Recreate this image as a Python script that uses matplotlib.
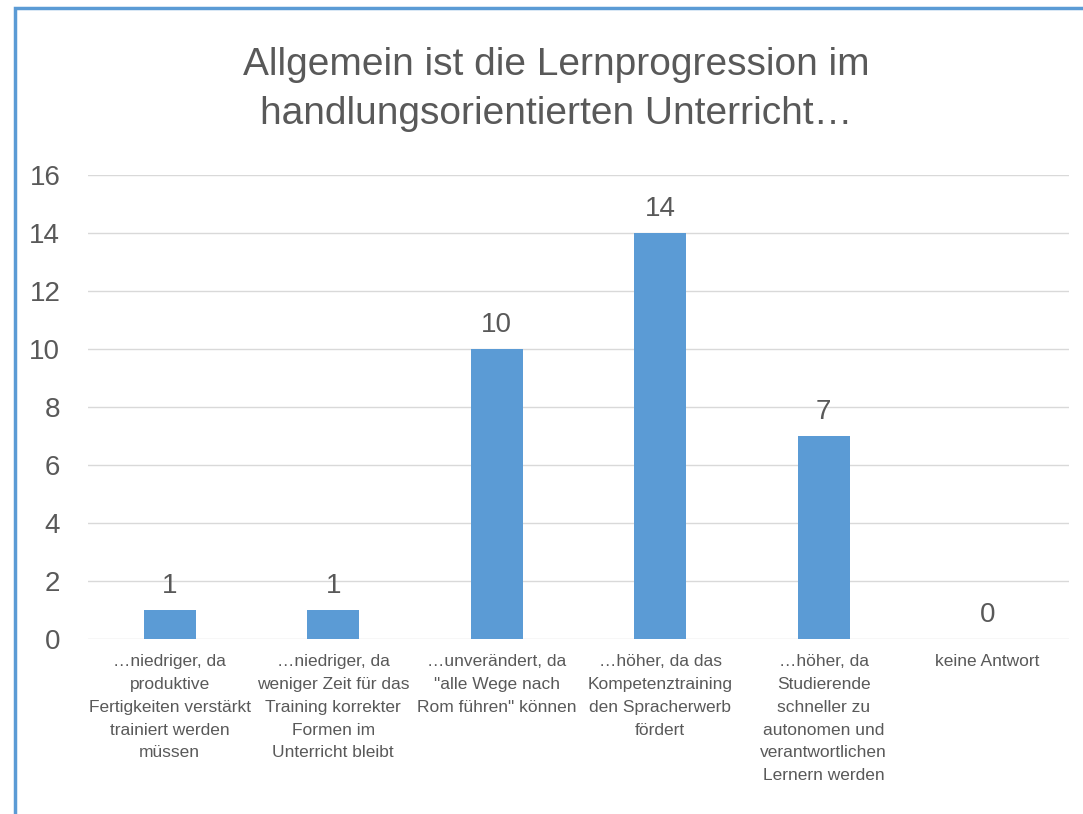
import matplotlib.pyplot as plt
from matplotlib.patches import Rectangle
import numpy as np

categories = [
    "…niedriger, da\nproduktive\nFertigkeiten verstärkt\ntrainiert werden\nmüssen",
    "…niedriger, da\nweniger Zeit für das\nTraining korrekter\nFormen im\nUnterricht bleibt",
    "…unverändert, da\n\"alle Wege nach\nRom führen\" können",
    "…höher, da das\nKompetenztraining\nden Spracherwerb\nfördert",
    "…höher, da\nStudierende\nschneller zu\nautonomen und\nverantwortlichen\nLernern werden",
    "keine Antwort",
]
values = [1, 1, 10, 14, 7, 0]
yticks = [0, 2, 4, 6, 8, 10, 12, 14, 16]
title = "Allgemein ist die Lernprogression im\nhandlungsorientierten Unterricht…"

plt.rcParams['font.family'] = ['Liberation Sans Narrow', 'Liberation Sans', 'DejaVu Sans']
txt = '#595959'
blue = '#5B9BD5'

fig = plt.figure(figsize=(10.83, 8.14), dpi=100)
ax = fig.add_axes([0.0813, 0.215, 0.9057, 0.570])

x = np.arange(len(values))
bars = ax.bar(x, values, width=0.32, color=blue, zorder=3)
ax.bar_label(bars, labels=[str(v) for v in values], padding=8, fontsize=20, color=txt)

ax.set_xlim(-0.5, len(values) - 0.5)
ax.set_ylim(0, 16)
ax.set_yticks(yticks)
ax.set_yticklabels([str(t) for t in yticks], fontsize=20, color=txt)
ax.set_xticks(x)
ax.set_xticklabels(categories, fontsize=12.5, color=txt, linespacing=1.65, va='top')
ax.tick_params(axis='both', length=0)
ax.tick_params(axis='y', pad=20)
ax.tick_params(axis='x', pad=11)
ax.grid(axis='y', color='#D9D9D9', linewidth=1, zorder=0)
for s in ax.spines.values():
    s.set_visible(False)

fig.text(0.514, 0.942, title, ha='center', va='top', fontsize=28, color=txt, linespacing=1.45)

fig.patches.append(Rectangle((0.0139, -0.05), 1.1, 1.04, transform=fig.transFigure,
                             fill=False, edgecolor=blue, linewidth=2.5))

fig.savefig('out.png', dpi=100)
